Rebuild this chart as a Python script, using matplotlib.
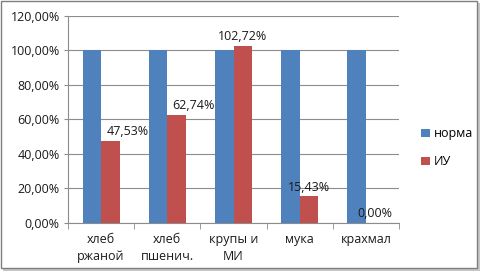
import matplotlib
matplotlib.use("Agg")
import matplotlib.pyplot as plt
import matplotlib.ticker as mticker
from matplotlib.patches import Rectangle
import numpy as np

categories = ["хлеб\nржаной", "хлеб\nпшенич.", "крупы и\nМИ", "мука", "крахмал"]
norma = [100.0, 100.0, 100.0, 100.0, 100.0]
iu = [47.53, 62.74, 102.72, 15.43, 0.00]
iu_labels = ["47,53%", "62,74%", "102,72%", "15,43%", "0,00%"]

plt.rcParams['font.family'] = ['Open Sans', 'DejaVu Sans']

W, H = 482, 273
fig = plt.figure(figsize=(W / 100, H / 100), dpi=100)

# outer chart frame with shadow
fig.patches.append(Rectangle((3 / W, 1 - 271 / H), 477 / W, 268 / H, transform=fig.transFigure,
                             facecolor="#c8c8c8", edgecolor="none", zorder=0))
fig.patches.append(Rectangle((1 / W, 1 - 268 / H), 476 / W, 267 / H, transform=fig.transFigure,
                             facecolor="white", edgecolor="#7f7f7f", linewidth=1.0, zorder=1))

ax = fig.add_axes([68 / W, 1 - 223 / H, 331 / W, (223 - 15.7) / H])
ax.set_zorder(2)
ax.patch.set_alpha(0)

x = np.arange(len(categories))
bw = 0.28
ax.bar(x - bw / 2, norma, bw, color="#4F81BD", label="норма", zorder=3)
ax.bar(x + bw / 2, iu, bw, color="#C0504D", label="ИУ", zorder=3)

offsets = [17, 17, 0, 0, 0]
for xi, v, lab, dx in zip(x, iu, iu_labels, offsets):
    ax.annotate(lab, (xi + bw / 2, v), xytext=(dx * 0.72, 2), textcoords="offset points",
                ha="center", va="bottom", fontsize=9, color="#1a1a1a", zorder=4)

ax.set_ylim(0, 120)
ax.set_xlim(-0.5, len(categories) - 0.5)
ax.set_yticks(np.arange(0, 121, 20))
ax.yaxis.set_major_formatter(mticker.FuncFormatter(lambda v, p: f"{v:.2f}%".replace(".", ",")))
ax.yaxis.grid(True, color="#8c8c8c", linewidth=0.8, zorder=0)
ax.set_axisbelow(True)

ax.set_xticks(x)
ax.set_xticklabels(categories, fontsize=9, color="#1a1a1a", linespacing=1.4)
ax.set_xticks(np.arange(-0.5, len(categories), 1), minor=True)
ax.tick_params(axis="x", which="major", length=0, pad=7)
ax.tick_params(axis="x", which="minor", length=4, color="#8c8c8c", direction="out")
ax.tick_params(axis="y", length=3, color="#8c8c8c", labelsize=9, labelcolor="#1a1a1a", pad=3)

for s in ["top", "right"]:
    ax.spines[s].set_visible(False)
for s in ["left", "bottom"]:
    ax.spines[s].set_color("#8c8c8c")
    ax.spines[s].set_linewidth(0.8)

leg = fig.legend(loc="upper left", bbox_to_anchor=(410 / W, 1 - 116 / H), frameon=False,
                 fontsize=9, handlelength=0.7, handleheight=0.7, handletextpad=0.3,
                 labelspacing=1.2)

fig.savefig("out.png", dpi=100)
